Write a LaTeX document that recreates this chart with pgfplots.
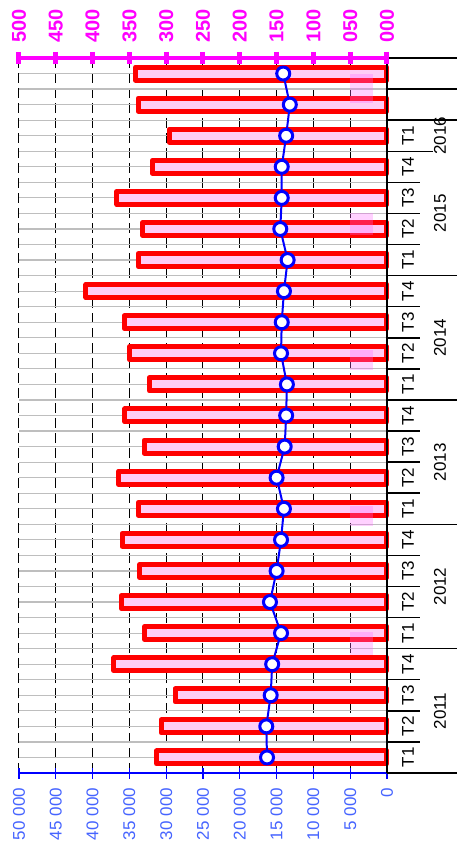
\documentclass[border=0pt]{standalone}
\usepackage{fontspec}
\setmainfont{Liberation Sans}
\usepackage{pgfplots}
\usepackage{pgfplotstable}
\pgfplotsset{compat=1.18}

\definecolor{barred}{RGB}{255,0,0}
\definecolor{barpink}{RGB}{255,204,245}
\definecolor{lineblue}{RGB}{0,0,255}
\definecolor{labblue}{RGB}{70,100,255}
\definecolor{magx}{RGB}{255,0,255}
\definecolor{gridgray}{RGB}{190,190,190}

% idx 0 = T1 2011 ... 20 = T1 2016, 21-22 unlabelled
\pgfplotstableread{
idx bars line
0  31300 16300
1  30700 16400
2  28800 15800
3  37100 15600
4  32900 14400
5  36100 15900
6  33600 15000
7  36000 14400
8  33800 14000
9  36500 15000
10 33000 13900
11 35600 13700
12 32300 13600
13 35000 14400
14 35700 14300
15 40900 14000
16 33800 13500
17 33200 14500
18 36700 14300
19 31900 14300
20 29600 13700
21 33800 13200
22 34200 14100
}\data

\begin{document}
\begin{tikzpicture}
\begin{axis}[
    scale only axis, width=368bp, height=715bp,
    x dir=reverse, xmin=0, xmax=50000,
    ymin=-0.5, ymax=22.5,
    clip=false,
    scaled x ticks=false,
    axis x line*=bottom, axis y line*=left,
    x axis line style={lineblue, line width=1.5bp, -},
    y axis line style={draw=none},
    xtick={0,5000,...,50000},
    xticklabels={0,5 000,10 000,15 000,20 000,25 000,30 000,35 000,40 000,45 000,50 000},
    xtick style={lineblue, line width=1.2bp},
    tick align=center, major tick length=11bp,
    xticklabel style={yshift=-6bp, rotate=90, anchor=east, labblue, font=\fontsize{17bp}{20bp}\selectfont},
    ytick={-0.5,0.5,...,22.5}, yticklabels={,,},
    minor ytick={0,1,...,22},
    ytick style={draw=none},
    xmajorgrids, ymajorgrids, yminorgrids,
    major x grid style={black, line width=1bp, dash pattern=on 10bp off 5bp},
    major y grid style={gridgray, line width=1.2bp},
    minor y grid style={gridgray, line width=1.2bp},
]
\addplot[xbar, bar width=13bp, draw=barred, line width=5bp, fill=barpink, line join=round]
    table[x=bars, y=idx] {\data};

% faint pink patches
\addplot[draw=none, fill=magx!60, fill opacity=0.3, forget plot]
    coordinates {(1900,3.3) (5000,3.3) (5000,4.02) (1900,4.02)};
\addplot[draw=none, fill=magx!60, fill opacity=0.3, forget plot]
    coordinates {(1900,7.45) (5000,7.45) (5000,8.1) (1900,8.1)};
\addplot[draw=none, fill=magx!60, fill opacity=0.3, forget plot]
    coordinates {(1900,12.45) (5000,12.45) (5000,13.1) (1900,13.1)};
\addplot[draw=none, fill=magx!60, fill opacity=0.3, forget plot]
    coordinates {(1900,16.8) (5000,16.8) (5000,17.5) (1900,17.5)};
\addplot[draw=none, fill=magx!60, fill opacity=0.3, forget plot]
    coordinates {(1900,21.05) (5000,21.05) (5000,22.0) (1900,22.0)};

\addplot[lineblue, line width=2bp, mark=*, mark size=6.5bp,
    mark options={draw=lineblue, fill=white, line width=3bp}]
    table[x=line, y=idx] {\data};

% category axis on the right
\draw[black, line width=1.5bp] (axis cs:0,-0.5) -- (axis cs:0,22.5);
\pgfplotsinvokeforeach{0.5,1.5,2.5,4.5,5.5,6.5,8.5,9.5,10.5,12.5,13.5,14.5,16.5,17.5,18.5}{
    \draw[black, line width=1.5bp] (axis cs:0,#1) -- ([xshift=33bp]axis cs:0,#1);}
\draw[black, line width=1.5bp] (axis cs:0,19.5) -- ([xshift=46bp]axis cs:0,19.5);
\pgfplotsinvokeforeach{-0.5,3.5,7.5,11.5,15.5,20.5,21.5,22.5}{
    \draw[black, line width=1.5bp] (axis cs:0,#1) -- ([xshift=70bp]axis cs:0,#1);}
\pgfplotsinvokeforeach{0,4,8,12,16,20}{
    \node[rotate=90, font=\fontsize{17bp}{20bp}\selectfont] at ([xshift=21bp]axis cs:0,#1) {T1};}
\pgfplotsinvokeforeach{1,5,9,13,17}{
    \node[rotate=90, font=\fontsize{17bp}{20bp}\selectfont] at ([xshift=21bp]axis cs:0,#1) {T2};}
\pgfplotsinvokeforeach{2,6,10,14,18}{
    \node[rotate=90, font=\fontsize{17bp}{20bp}\selectfont] at ([xshift=21bp]axis cs:0,#1) {T3};}
\pgfplotsinvokeforeach{3,7,11,15,19}{
    \node[rotate=90, font=\fontsize{17bp}{20bp}\selectfont] at ([xshift=21bp]axis cs:0,#1) {T4};}
\node[rotate=90, font=\fontsize{17bp}{20bp}\selectfont] at ([xshift=53bp]axis cs:0,1.5) {2011};
\node[rotate=90, font=\fontsize{17bp}{20bp}\selectfont] at ([xshift=53bp]axis cs:0,5.5) {2012};
\node[rotate=90, font=\fontsize{17bp}{20bp}\selectfont] at ([xshift=53bp]axis cs:0,9.5) {2013};
\node[rotate=90, font=\fontsize{17bp}{20bp}\selectfont] at ([xshift=53bp]axis cs:0,13.5) {2014};
\node[rotate=90, font=\fontsize{17bp}{20bp}\selectfont] at ([xshift=53bp]axis cs:0,17.5) {2015};
\node[rotate=90, font=\fontsize{17bp}{20bp}\selectfont] at ([xshift=53bp]axis cs:0,20) {2016};

\coordinate (bl) at (axis cs:50000,-0.5);
\coordinate (tr) at (axis cs:0,22.5);
\end{axis}

\begin{axis}[
    scale only axis, width=368bp, height=715bp,
    x dir=reverse, xmin=0, xmax=500,
    ymin=-0.5, ymax=22.5,
    axis x line*=top, hide y axis,
    x axis line style={magx, line width=4bp, -},
    xtick={0,50,...,500},
    xticklabels={000,050,100,150,200,250,300,350,400,450,500},
    xtick style={magx, line width=5bp},
    tick align=center, major tick length=12bp,
    xticklabel style={yshift=6bp, rotate=90, anchor=west, magx, font=\bfseries\fontsize{20bp}{22bp}\selectfont},
]
\end{axis}

\pgfresetboundingbox
\path[use as bounding box] ([shift={(-19bp,-83bp)}]bl) rectangle ([shift={(70bp,58bp)}]tr);
\end{tikzpicture}
\end{document}
